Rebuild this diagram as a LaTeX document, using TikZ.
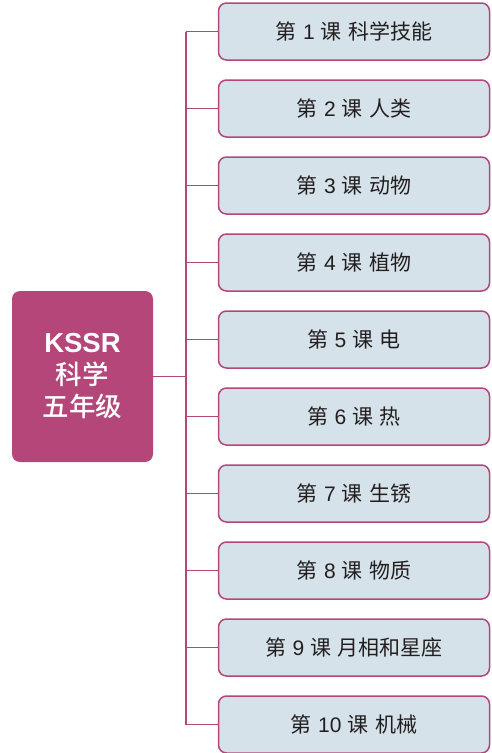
\documentclass[tikz,border=0pt]{standalone}
\usepackage{fontspec}
\setmainfont{Noto Sans CJK SC}
\newfontfamily\cjkmed{Noto Sans CJK SC Medium}
\newfontfamily\lat{Liberation Sans}
\definecolor{mag}{HTML}{B5467A}
\definecolor{boxfill}{HTML}{D6E2EA}
\definecolor{txt}{HTML}{231F20}
\newcommand\lessontext[2]{第\hspace{0.3em}{\lat #1}\hspace{0.3em}课\hspace{0.3em}#2}
\begin{document}
\begin{tikzpicture}[x=1pt,y=-1pt,
  lesson/.style={draw=mag, line width=1.5pt, fill=boxfill, rounded corners=8pt,
    minimum width=271pt, minimum height=57pt, inner sep=0pt, text=txt,
    font=\fontsize{21}{25}\selectfont},
  mainbox/.style={fill=mag, rounded corners=8pt, minimum width=141pt, minimum height=171pt,
    inner sep=0pt, text=white, align=center, font=\fontsize{26.5}{32}\selectfont},
  link/.style={draw=mag, line width=1.5pt}]
\useasboundingbox (0,0) rectangle (491,753);
\node[mainbox] (main) at (82.5,376.5) {{\lat\bfseries\fontsize{27.5}{32}\selectfont KSSR}\\{\cjkmed 科学}\\{\cjkmed 五年级}};
\node[lesson] (l1) at (354,31.5) {\lessontext{1}{科学技能}};
\node[lesson] (l2) at (354,108.5) {\lessontext{2}{人类}};
\node[lesson] (l3) at (354,185.5) {\lessontext{3}{动物}};
\node[lesson] (l4) at (354,262.5) {\lessontext{4}{植物}};
\node[lesson] (l5) at (354,339.5) {\lessontext{5}{电}};
\node[lesson] (l6) at (354,416.5) {\lessontext{6}{热}};
\node[lesson] (l7) at (354,493.5) {\lessontext{7}{生锈}};
\node[lesson] (l8) at (354,570.5) {\lessontext{8}{物质}};
\node[lesson] (l9) at (354,647.5) {\lessontext{9}{月相和星座}};
\node[lesson] (l10) at (354,724.5) {\lessontext{10}{机械}};
\coordinate (ttop) at (186,31.5);
\coordinate (tbot) at (186,724.5);
\coordinate (tmid) at (186,376.5);
\draw[link] (ttop) -- (tbot);
\draw[link] (main.east) -- (tmid);
\foreach \i in {1,...,10} {
  \draw[link] (ttop |- l\i.west) -- (l\i.west);
}
\end{tikzpicture}
\end{document}
